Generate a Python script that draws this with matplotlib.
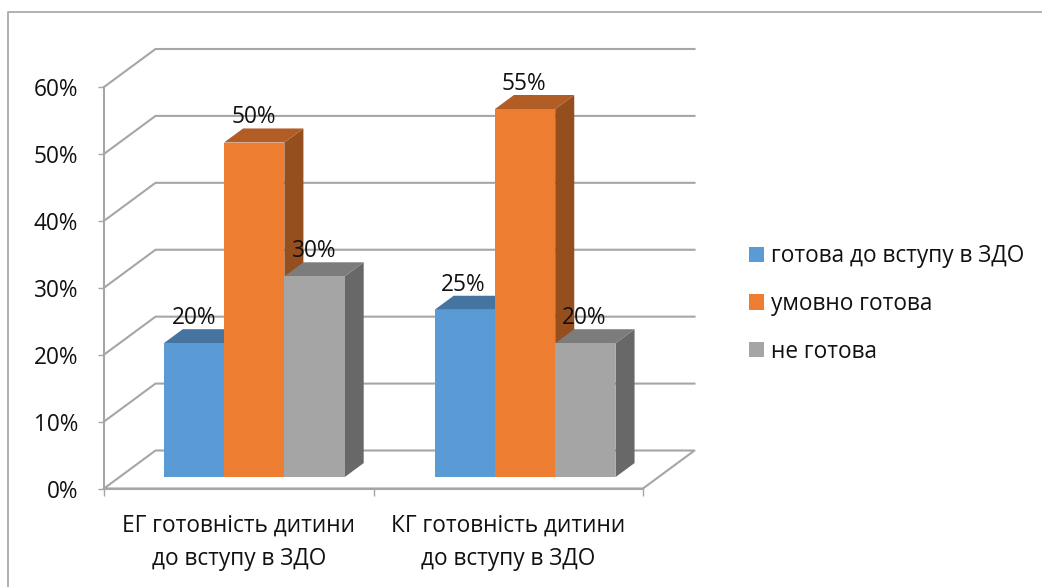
import matplotlib
matplotlib.use("Agg")
import matplotlib.pyplot as plt
from matplotlib.lines import Line2D
from matplotlib.patches import Patch

plt.rcParams['font.family'] = ['Open Sans', 'DejaVu Sans']

categories = ["ЕГ готовність дитини\nдо вступу в ЗДО", "КГ готовність дитини\nдо вступу в ЗДО"]
series_names = ["готова до вступу в ЗДО", "умовно готова", "не готова"]
ready = [0.20, 0.25]
conditional = [0.50, 0.55]
not_ready = [0.30, 0.20]
y_ticks = [0, 0.1, 0.2, 0.3, 0.4, 0.5, 0.6]
y_labels = ["0%", "10%", "20%", "30%", "40%", "50%", "60%"]

W, H = 1042, 587
fig = plt.figure(figsize=(W / 100, H / 100), dpi=100, facecolor="white")
L, R, T, B = 104, 643, 87, 488.5
ax = fig.add_axes([L / W, 1 - B / H, (R - L) / W, (B - T) / H])
ax.set_xlim(0, 2)
ax.set_ylim(0, 0.6)
ax.patch.set_alpha(0)

PXX = (R - L) / 2
PXY = (B - T) / 0.6
DX = 51.5 / PXX
DY = 38 / PXY


def proj(x, v, d):
    return x + d * DX, v + d * DY


GRID = "#a6a6a6"
for v in y_ticks[1:]:
    xs, ys = zip(proj(0, v, 0), proj(0, v, 1), proj(2, v, 1))
    ax.plot(xs, ys, color=GRID, lw=1.5, clip_on=False, zorder=1, solid_joinstyle="miter")
xs, ys = zip(proj(0, 0, 0), proj(0, 0, 1), proj(2, 0, 1), proj(2, 0, 0), proj(0, 0, 0))
ax.plot(xs, ys, color=GRID, lw=1.5, clip_on=False, zorder=1)

bar_w = 60.3 / PXX
d0, d1 = 0.30, 0.67
group_pos = [0.5, 1.505]
faces = ["#5b9bd5", "#ed7d31", "#a5a5a5"]
tops = ["#44749f", "#b25d25", "#7c7c7c"]
sides = ["#3a6286", "#954e1e", "#686868"]
group_values = [ready, conditional, not_ready]

z = 2
for g in range(len(categories)):
    for s, vals in enumerate(group_values):
        v = vals[g]
        x0 = group_pos[g] + (s - 1.5) * bar_w
        x1 = x0 + bar_w
        top = [proj(x0, v, d0), proj(x1, v, d0), proj(x1, v, d1), proj(x0, v, d1)]
        side = [proj(x1, 0, d0), proj(x1, v, d0), proj(x1, v, d1), proj(x1, 0, d1)]
        front = [proj(x0, 0, d0), proj(x1, 0, d0), proj(x1, v, d0), proj(x0, v, d0)]
        for poly, col in ((side, sides[s]), (top, tops[s]), (front, faces[s])):
            ax.fill(*zip(*poly), color=col, lw=0, clip_on=False, zorder=z)
        z += 1

FS = 16.3
for g in range(len(categories)):
    for s, vals in enumerate(group_values):
        v = vals[g]
        xc = group_pos[g] + (s - 1) * bar_w
        ax.annotate(f"{round(v * 100)}%", proj(xc, v, d0), xytext=(-1 if g else 0, 18.2),
                    textcoords="offset points", ha="center", va="center",
                    fontsize=FS, color="#111111", zorder=50, annotation_clip=False)

for sp in ("top", "right"):
    ax.spines[sp].set_visible(False)
for sp in ("left", "bottom"):
    ax.spines[sp].set_color(GRID)
    ax.spines[sp].set_linewidth(1.5)
    ax.spines[sp].set_zorder(1.5)

ax.set_yticks(y_ticks)
ax.set_yticklabels(y_labels, fontsize=FS, color="#111111")
ax.tick_params(axis="y", length=4.5, width=1, color=GRID, pad=14)
ax.set_xticks([0, 1, 2])
ax.set_xticklabels([])
ax.set_xticks([0.5, 1.5], minor=True)
ax.set_xticklabels(categories, minor=True, fontsize=FS, color="#111111", linespacing=1.55)
ax.tick_params(axis="x", which="major", length=5, width=1, color=GRID)
ax.tick_params(axis="x", which="minor", length=0, pad=18)

handles = [Patch(facecolor=c, edgecolor="none") for c in faces]
fig.legend(handles, series_names, loc="center left", bbox_to_anchor=(729 / W, 1 - 304 / H),
           frameon=False, fontsize=FS, handlelength=0.66, handleheight=0.66,
           handletextpad=0.3, labelspacing=1.05, labelcolor="#111111", borderpad=0.4)

fig.add_artist(Line2D([8 / W, 8 / W, 1], [0, 1 - 12 / H, 1 - 12 / H],
                      transform=fig.transFigure, color="#b0b0b0", lw=1.4))

fig.savefig("out.png", dpi=100, facecolor="white")
